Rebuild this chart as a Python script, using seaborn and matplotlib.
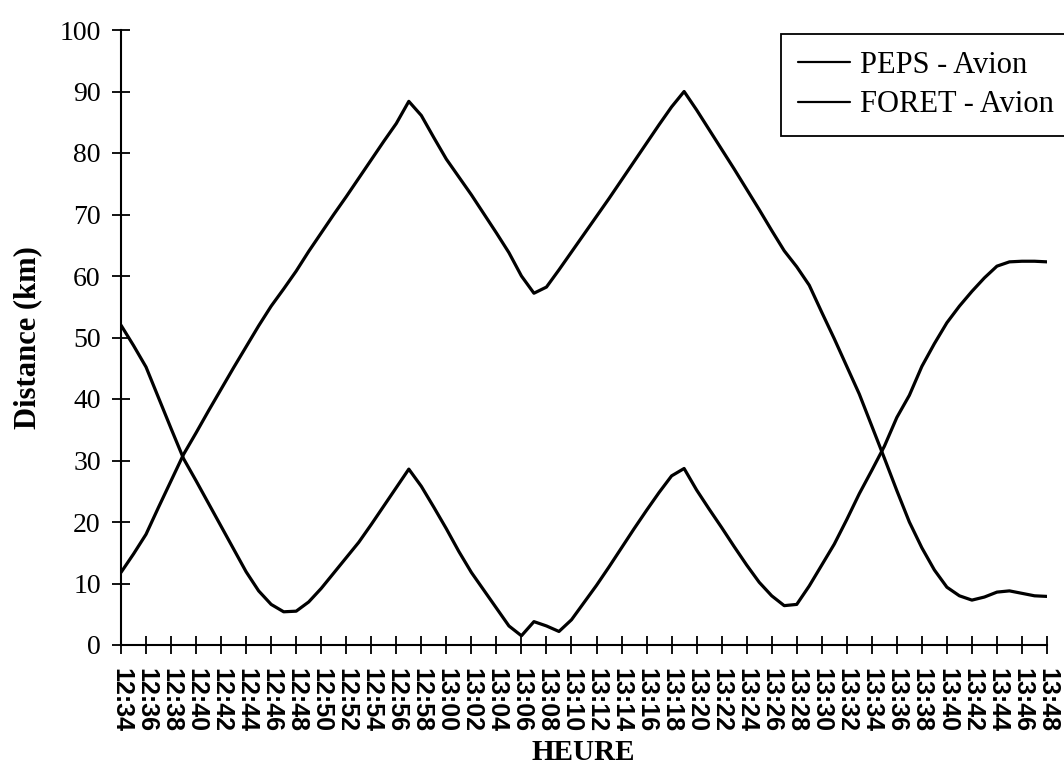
import matplotlib
matplotlib.use("Agg")
import pandas as pd
import matplotlib.pyplot as plt
import seaborn as sns

# minutes after 12:34, one reading per minute
minutes = list(range(75))

peps = [52.0, 48.7, 45.2, 40.2, 35.2, 30.3, 26.7, 23.0, 19.3, 15.6,
        11.9, 8.8, 6.6, 5.4, 5.5, 7.0, 9.2, 11.7, 14.2, 16.7,
        19.6, 22.6, 25.6, 28.6, 25.8, 22.4, 18.9, 15.2, 11.8, 8.9,
        6.0, 3.1, 1.5, 3.8, 3.1, 2.2, 4.1, 6.9, 9.7, 12.7,
        15.8, 18.9, 21.9, 24.8, 27.5, 28.7, 25.2, 22.1, 19.1, 16.0,
        13.0, 10.2, 8.0, 6.4, 6.6, 9.6, 13.0, 16.4, 20.4, 24.6,
        28.4, 32.3, 37.0, 40.6, 45.3, 49.0, 52.4, 55.1, 57.5, 59.7,
        61.6, 62.3, 62.4, 62.4, 62.3]

foret = [11.8, 14.8, 18.0, 22.4, 26.7, 31.0, 34.5, 38.1, 41.6, 45.1,
         48.5, 51.9, 55.1, 57.9, 60.8, 64.0, 67.0, 70.0, 72.9, 75.9,
         78.9, 81.9, 84.8, 88.4, 86.1, 82.5, 79.0, 76.1, 73.2, 70.1,
         67.0, 63.8, 60.0, 57.2, 58.2, 61.0, 63.9, 66.8, 69.7, 72.6,
         75.6, 78.6, 81.6, 84.6, 87.5, 90.0, 87.0, 83.8, 80.6, 77.4,
         74.1, 70.8, 67.4, 64.1, 61.5, 58.5, 54.1, 49.8, 45.3, 40.8,
         35.6, 30.4, 25.1, 20.0, 15.8, 12.2, 9.4, 8.0, 7.3, 7.8,
         8.6, 8.8, 8.4, 8.0, 7.9]

tick_minutes = list(range(0, 75, 2))
time_labels = ["12:34", "12:36", "12:38", "12:40", "12:42", "12:44", "12:46",
               "12:48", "12:50", "12:52", "12:54", "12:56", "12:58", "13:00",
               "13:02", "13:04", "13:06", "13:08", "13:10", "13:12", "13:14",
               "13:16", "13:18", "13:20", "13:22", "13:24", "13:26", "13:28",
               "13:30", "13:32", "13:34", "13:36", "13:38", "13:40", "13:42",
               "13:44", "13:46", "13:48"]

sns.set_style("white")
plt.rcParams['font.family'] = ['Liberation Serif', 'DejaVu Serif']
plt.rcParams['text.color'] = 'black'
plt.rcParams['axes.labelcolor'] = 'black'

fig = plt.figure(figsize=(10.64, 7.68), dpi=100)
ax = fig.add_axes([121 / 1064, 1 - 645 / 768, (1047 - 121) / 1064, (645 - 30) / 768])

sns.lineplot(x=minutes, y=peps, color="black", linewidth=2.3, label="PEPS - Avion", ax=ax)
sns.lineplot(x=minutes, y=foret, color="black", linewidth=2.3, label="FORET - Avion", ax=ax)

ax.set_xlim(0, 74)
ax.set_ylim(0, 100)
ax.set_yticks(range(0, 101, 10))
ax.set_xticks(tick_minutes)
ax.set_xticklabels(time_labels, rotation=-90, family="Liberation Sans",
                   fontweight="bold", fontsize=18)
ax.tick_params(axis="y", labelsize=20, pad=8)
ax.tick_params(axis="x", pad=10)
ax.tick_params(axis="both", direction="inout", length=13, width=1.3,
               color="black", labelcolor="black", bottom=True, left=True)

for side in ["top", "right"]:
    ax.spines[side].set_visible(False)
for side in ["left", "bottom"]:
    ax.spines[side].set_color("black")
    ax.spines[side].set_linewidth(1.5)

ax.set_ylabel("Distance (km)", fontsize=22, fontweight="bold")
ax.yaxis.set_label_coords(-0.085, 0.5)
fig.text(583 / 1064, 1 - 753 / 768, "HEURE", ha="center", va="center",
         fontsize=21, fontweight="bold")

leg = ax.legend(loc="upper left", bbox_to_anchor=(781 / 1064, 1 - 34 / 768),
                bbox_transform=fig.transFigure, borderaxespad=0, fontsize=22,
                handlelength=1.7, handletextpad=0.35, borderpad=0.55,
                labelspacing=0.35, fancybox=False, framealpha=1)
leg.get_frame().set_edgecolor("black")
leg.get_frame().set_linewidth(1.3)
for line in leg.get_lines():
    line.set_linewidth(1.6)

fig.savefig("out.png", dpi=100)
